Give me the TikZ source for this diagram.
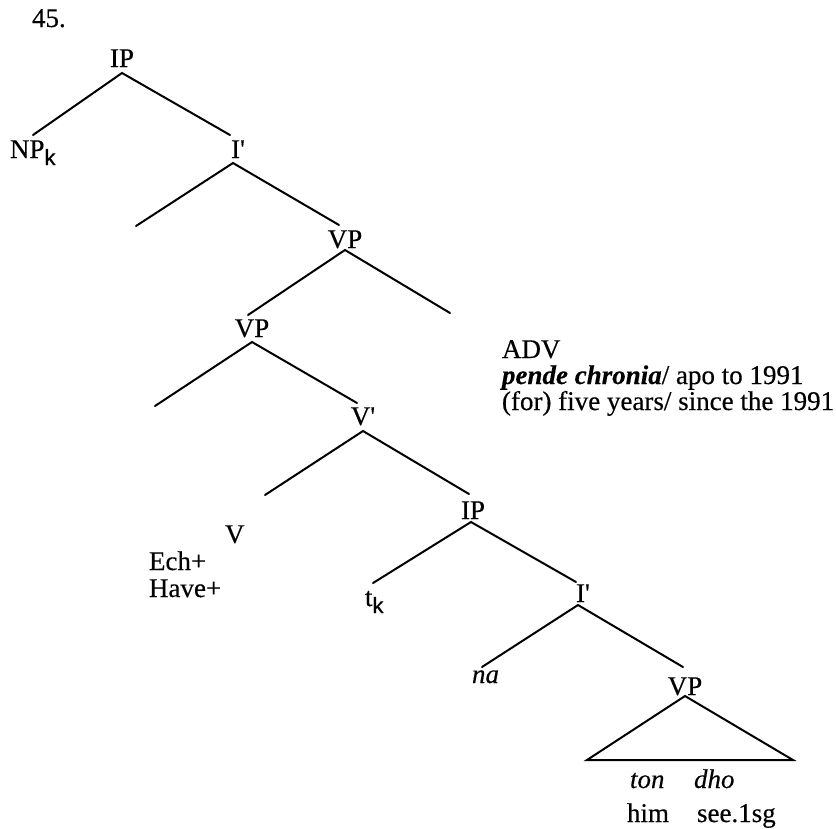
\documentclass[tikz,border=0pt]{standalone}
\usepackage{fontspec}
\setmainfont{Liberation Serif}[Ligatures=TeXOff, FakeBold=0.4]
\newfontfamily\subsf{Liberation Sans}[FakeBold=0.8]
\tikzset{
  lbl/.style={inner sep=0pt, outer sep=0pt, font=\fontsize{27}{27}\selectfont},
  lblw/.style={lbl, anchor=base west},
  lblc/.style={lbl, anchor=base},
  branch/.style={line width=2pt, line cap=round}
}
\newcommand{\ksub}{\raisebox{-7pt}{\subsf\fontsize{22}{22}\selectfont k}}
\begin{document}
\begin{tikzpicture}[x=1pt,y=-1pt]
\useasboundingbox (0,0) rectangle (836,828);
% labels
\node[lblw] (n45) at (32,27) {45.};
\node[lblc] (IPa) at (122,67) {IP};
\node[lblw] (NPk) at (10,158) {NP\ksub};
\node[lblc] (Ia) at (238,158) {I'};
\node[lblc] (VPa) at (345,248) {VP};
\node[lblc] (VPb) at (252,337) {VP};
\node[lblc] (Vbar) at (363,425) {V'};
\node[lblc] (IPb) at (473,519) {IP};
\node[lblw] (Ib) at (576,602) {I'};
\node[lblc] (VPc) at (685,695) {VP};
\node[lblw] (V) at (225,543) {V};
\node[lblw] (Ech) at (149,570) {Ech+};
\node[lblw] (Have) at (149,597) {Have+};
\node[lblw] (tk) at (365,606) {t\ksub};
\node[lblw] (na) at (472,683) {\itshape na};
\node[lblw] (ton) at (630,788) {\itshape ton};
\node[lblw] (dho) at (694,788) {\itshape dho};
\node[lblw] (him) at (627,822) {him};
\node[lblw] (see) at (697,822) {see.1sg};
\node[lblw] (adv) at (502,358) {ADV};
\node[lblw] (adv2) at (502,384) {\textbf{\textit{pende chronia}}/ apo to 1991};
\node[lblw] (adv3) at (502,410) {(for) five years/ since the 1991};
% branch points
\coordinate (aIPa) at (122,73);
\coordinate (tNPk) at (33,135);
\coordinate (tIa) at (230,135);
\coordinate (aIa) at (233,163);
\coordinate (e1) at (136,226);
\coordinate (tVPa) at (339,225);
\coordinate (aVPa) at (345,250);
\coordinate (tVPb) at (248,315);
\coordinate (e2) at (450,313);
\coordinate (aVPb) at (252,342);
\coordinate (e3) at (155,406);
\coordinate (tVbar) at (357,403);
\coordinate (aVbar) at (363,431);
\coordinate (e4) at (265,495);
\coordinate (tIPb) at (469,494);
\coordinate (aIPb) at (471,522);
\coordinate (ttk) at (373,583);
\coordinate (tIb) at (576,582);
\coordinate (aIb) at (578,605);
\coordinate (tna) at (482,667);
\coordinate (tVPc) at (683,667);
\coordinate (aVPc) at (685,696);
\coordinate (triL) at (587,760);
\coordinate (triR) at (793,760);
% branches
\draw[branch] (tNPk) -- (aIPa) -- (tIa);
\draw[branch] (e1) -- (aIa) -- (tVPa);
\draw[branch] (tVPb) -- (aVPa) -- (e2);
\draw[branch] (e3) -- (aVPb) -- (tVbar);
\draw[branch] (e4) -- (aVbar) -- (tIPb);
\draw[branch] (ttk) -- (aIPb) -- (tIb);
\draw[branch] (tna) -- (aIb) -- (tVPc);
\draw[branch, line join=miter] (triL) -- (aVPc) -- (triR) -- cycle;
\end{tikzpicture}
\end{document}
